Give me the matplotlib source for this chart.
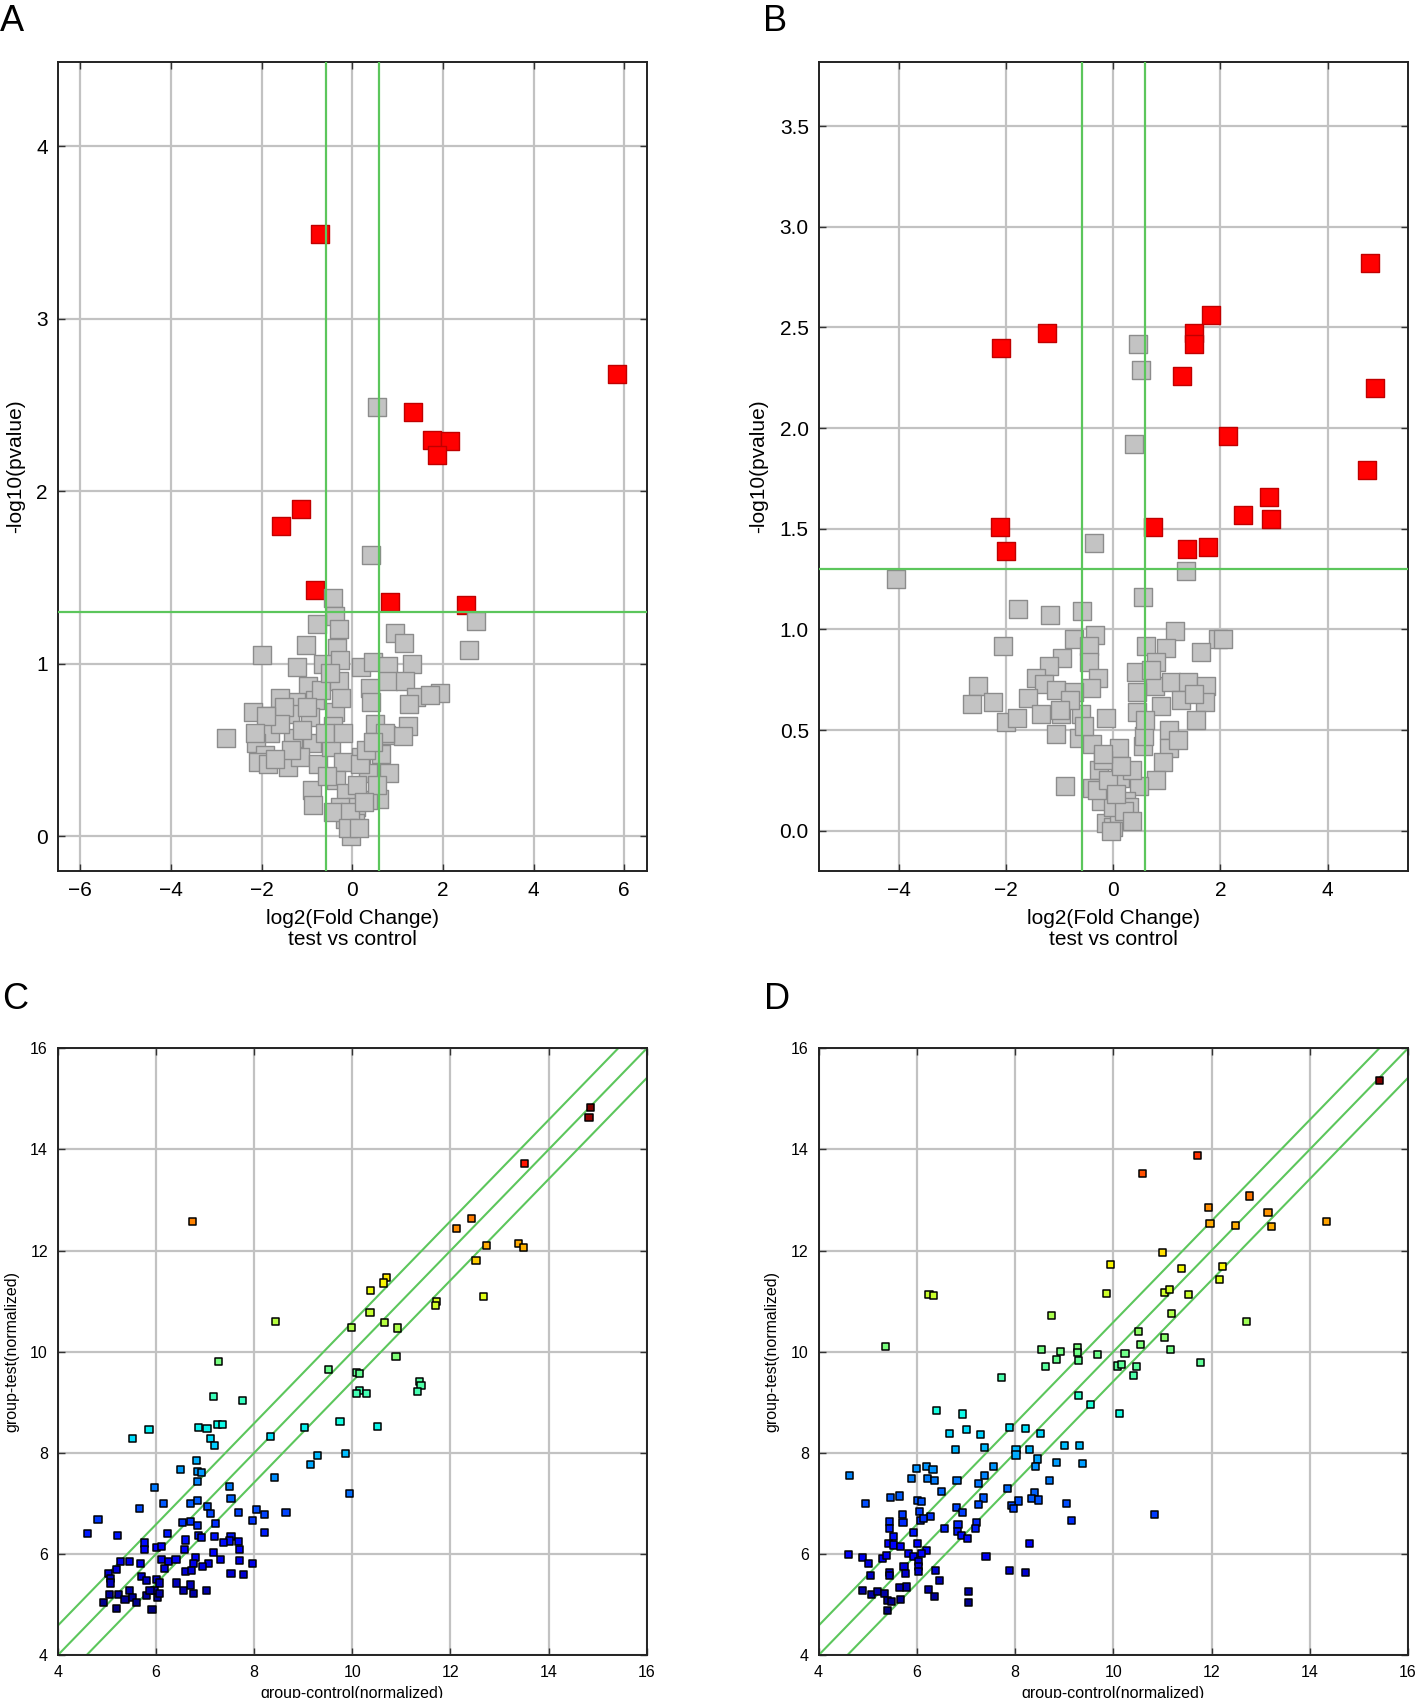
import matplotlib
matplotlib.use("Agg")
import matplotlib.pyplot as plt
import numpy as np

plt.rcParams['font.family'] = ['Liberation Sans', 'DejaVu Sans']

# ---------------- Panel A (volcano) ----------------
a_red_x = [-0.71, 5.83, 1.33, 1.76, 2.15, 1.86, -1.13, -1.57, -0.83, 0.83, 2.51]
a_red_y = [3.49, 2.68, 2.46, 2.30, 2.29, 2.21, 1.90, 1.80, 1.43, 1.36, 1.34]

a_gray_x = [0.54, 0.42, -0.43, -0.39, -0.78, -0.29, -0.34, -1.03, -2.0, -1.21, -0.65, -0.28,
            0.20, 0.46, 0.79, 0.95, 1.13, 1.32, 2.74, 2.57, 0.40, 0.79, 1.17, 1.41, 1.93, 1.71,
            1.26, 0.42, -0.98, -0.83, -1.24, -1.60, -2.19, -1.82, -1.37, -0.94, -0.39, -0.43,
            -1.82, -1.31, -0.90, -2.78, -2.12, -1.93, -2.07, -1.86, -1.42, -1.16, -0.76, -0.46,
            -0.21, 0.20, 0.64, 0.75, 1.23, 1.12, 0.82, 0.35, 0.16, -0.35, -0.88, -0.87, -0.13,
            0.09, 0.60, 0.35, -0.28, -0.17, 0.05, -0.02, -0.43, -0.06,
            -1.5, -1.1, -0.6, -0.55, 0.3, 0.1, -0.7, -1.6, -0.3, 0.5, 0.55, -0.2, 0.25, -0.1,
            0.15, -1.9, -2.15, -1.35, -1.0, -0.5, 0.72, 0.45, -0.25, -1.7]
a_gray_y = [2.49, 1.63, 1.38, 1.28, 1.23, 1.20, 1.09, 1.11, 1.05, 0.98, 1.00, 1.02,
            0.98, 1.01, 0.99, 1.18, 1.12, 1.00, 1.25, 1.08, 0.86, 0.90, 0.90, 0.81, 0.83, 0.82,
            0.77, 0.78, 0.87, 0.79, 0.78, 0.80, 0.72, 0.70, 0.71, 0.69, 0.72, 0.64,
            0.60, 0.57, 0.54, 0.57, 0.54, 0.47, 0.43, 0.42, 0.40, 0.46, 0.42, 0.52,
            0.43, 0.46, 0.48, 0.59, 0.64, 0.58, 0.37, 0.37, 0.42, 0.33, 0.27, 0.18, 0.25,
            0.17, 0.22, 0.21, 0.17, 0.10, 0.08, 0.00, 0.14, 0.14,
            0.75, 0.62, 0.60, 0.35, 0.50, 0.30, 0.85, 0.65, 0.90, 0.65, 0.30, 0.60, 0.20, 0.05,
            0.05, 0.70, 0.60, 0.50, 0.75, 0.95, 0.60, 0.55, 0.80, 0.45]

# ---------------- Panel B (volcano) ----------------
b_red_x = [4.80, -2.09, -1.24, 1.28, 1.51, 1.51, 1.82, 4.89, 2.15, 4.74, 2.91, 2.42, 2.94,
           -2.12, 0.74, -2.01, 1.38, 1.77]
b_red_y = [2.82, 2.40, 2.47, 2.26, 2.47, 2.42, 2.56, 2.20, 1.96, 1.79, 1.66, 1.57, 1.55,
           1.51, 1.51, 1.39, 1.40, 1.41]

b_gray_x = [0.46, 0.51, 0.38, -0.36, -4.05, 1.35, 0.55, -1.77, -1.18, -0.58, -2.06,
            -0.34, -0.73, -0.45, 1.16, 0.62, 0.98, 1.96, 2.05, 1.64, -0.96, -0.45, -1.19, 0.42,
            0.80, -1.44, -1.29, -1.07, -0.29, -0.42, -0.73, -2.52, -2.63, -2.24, -1.60, 0.77,
            1.08, 1.39, 1.73, 1.72, 1.26, 0.89, 0.45, -2.00, -1.79, -1.35, -0.97, -0.60, -0.14,
            -1.07, -0.63, -0.39, 0.11, 1.04, 1.54, 0.55, 1.04, 0.92, -0.26, 0.12, 0.80, -0.90,
            -0.39, 0.48, 0.24, -0.23, -0.14, -0.01, 0.11, 0.30, 0.58, 0.45,
            -0.8, 0.6, 1.2, -0.2, 0.0, 0.7, -1.0, 1.5, 0.35, -0.55,
            -0.3, 0.2, -0.1, 0.35, 0.15, -0.05, 0.05, -0.2]
b_gray_y = [2.42, 2.29, 1.92, 1.43, 1.25, 1.29, 1.16, 1.10, 1.07, 1.09, 0.92,
            0.97, 0.95, 0.92, 0.99, 0.92, 0.91, 0.95, 0.95, 0.89, 0.86, 0.84, 0.82, 0.79,
            0.84, 0.76, 0.73, 0.70, 0.76, 0.71, 0.69, 0.72, 0.63, 0.64, 0.66, 0.72,
            0.74, 0.74, 0.72, 0.64, 0.65, 0.62, 0.59, 0.54, 0.56, 0.58, 0.58, 0.58, 0.56,
            0.48, 0.46, 0.43, 0.41, 0.50, 0.55, 0.42, 0.41, 0.34, 0.30, 0.26, 0.25, 0.22,
            0.21, 0.22, 0.15, 0.15, 0.04, 0.02, 0.09, 0.12, 0.47, 0.69,
            0.65, 0.55, 0.45, 0.35, 0.12, 0.80, 0.60, 0.68, 0.30, 0.52,
            0.20, 0.10, 0.25, 0.05, 0.32, 0.00, 0.18, 0.38]

# ---------------- Panel C (scatter) ----------------
c_x = [14.86, 14.82, 13.50, 6.75, 12.13, 12.43, 12.73, 13.39, 13.48, 12.52, 10.70, 10.63,
       10.38, 10.36, 11.71, 11.69, 12.67, 8.44, 9.99, 10.65, 10.92, 10.89, 7.27, 9.52, 10.08,
       10.15, 10.15, 10.08, 10.29, 11.37, 11.40, 11.32, 7.17, 7.76, 9.87, 9.94, 10.52,
       5.52, 5.86, 6.87, 7.04, 7.25, 7.35, 7.12, 7.19, 8.33, 9.03, 9.75, 9.29, 9.14, 8.41,
       6.82, 6.51, 6.84, 6.92, 6.84, 5.97, 7.49, 7.53, 5.66, 6.15, 4.82, 4.60, 5.21, 6.71,
       6.84, 7.06, 7.11, 7.68, 8.05, 8.21, 8.65, 7.97, 8.21, 6.55, 6.70, 6.84, 7.22, 6.24,
       6.86, 6.92, 7.19, 7.53, 7.69, 7.49, 7.38, 6.61, 5.76, 5.76, 6.01, 6.12, 6.58, 7.18,
       7.70, 5.27, 5.47, 5.69, 6.12, 6.25, 6.41, 6.80, 6.77, 7.08, 6.95, 7.32, 7.71, 7.97,
       6.18, 6.60, 6.72, 5.04, 5.19, 5.08, 5.08, 5.71, 5.80, 6.01, 6.08, 7.53, 7.78, 6.42,
       6.70, 6.77, 6.57, 7.03, 5.06, 4.94, 5.24, 5.47, 5.37, 5.53, 5.60, 5.80, 5.97, 6.03,
       6.07, 5.19, 5.92, 5.88]
c_y = [14.83, 14.63, 13.73, 12.57, 12.44, 12.64, 12.11, 12.15, 12.06, 11.80, 11.47, 11.36,
       11.21, 10.78, 10.99, 10.91, 11.10, 10.60, 10.48, 10.58, 10.47, 9.91, 9.80, 9.65, 9.59,
       9.58, 9.23, 9.17, 9.18, 9.41, 9.33, 9.21, 9.12, 9.03, 7.99, 7.19, 8.52,
       8.29, 8.46, 8.50, 8.48, 8.57, 8.57, 8.28, 8.15, 8.32, 8.50, 8.63, 7.95, 7.78, 7.52,
       7.85, 7.67, 7.64, 7.62, 7.44, 7.32, 7.34, 7.10, 6.91, 7.01, 6.69, 6.40, 6.37, 7.01,
       7.06, 6.94, 6.81, 6.83, 6.88, 6.79, 6.83, 6.67, 6.43, 6.63, 6.64, 6.57, 6.60, 6.40,
       6.37, 6.32, 6.35, 6.35, 6.25, 6.26, 6.23, 6.28, 6.22, 6.10, 6.14, 6.15, 6.09, 6.03,
       6.09, 5.85, 5.85, 5.82, 5.90, 5.85, 5.89, 5.93, 5.82, 5.81, 5.76, 5.89, 5.87, 5.82,
       5.72, 5.66, 5.68, 5.62, 5.69, 5.52, 5.43, 5.56, 5.48, 5.50, 5.43, 5.62, 5.60, 5.43,
       5.39, 5.23, 5.29, 5.29, 5.21, 5.05, 5.21, 5.29, 5.11, 5.15, 5.04, 5.19, 5.29, 5.14,
       5.23, 4.93, 4.90, 5.29]

# ---------------- Panel D (scatter) ----------------
d_x = [15.42, 11.72, 10.60, 12.77, 11.94, 11.97, 12.49, 13.15, 13.23, 14.34, 11.01, 9.95,
       11.39, 12.23, 12.17, 6.25, 6.34, 9.87, 11.04, 11.14, 11.53, 11.19, 8.75, 12.72, 5.36,
       10.51, 10.55, 11.05, 11.16, 8.54, 8.93, 9.28, 9.28, 9.30, 9.68, 10.24, 8.62, 8.84,
       10.08, 10.17, 10.47, 10.42, 11.77, 7.73, 9.30,
       9.53, 10.12, 6.41, 6.94, 7.02, 7.30, 6.66, 7.89, 8.22, 8.51, 6.78, 7.38, 8.02, 8.02,
       8.30, 9.01, 9.31, 9.38, 8.84, 8.46, 8.42, 7.56, 7.38, 8.71, 5.99, 6.19, 6.33, 5.90,
       6.22, 6.37, 6.82, 6.51, 4.64, 7.26, 7.85, 8.39, 7.36, 7.25, 8.08, 8.34, 8.48, 7.92,
       7.97, 9.05, 4.95, 5.47, 5.64, 6.01, 6.09, 6.81, 6.93, 10.84, 9.15, 5.71, 5.72, 6.06,
       6.07, 6.28, 6.13, 5.44, 5.44, 6.56, 6.84, 6.83, 7.21, 7.19, 6.92, 7.03, 5.52, 5.94,
       5.43, 5.52, 5.67, 6.01, 6.19, 6.10, 5.83, 5.94, 6.04, 6.04, 6.04, 4.61, 4.90, 5.02,
       5.06, 5.30, 5.38, 5.44, 5.45, 5.74, 5.78, 6.38, 6.47, 6.24, 6.36, 4.90, 5.08, 5.20,
       5.35, 5.41, 5.49, 5.67, 5.79, 5.65, 5.40, 7.05, 7.05, 7.41, 7.89, 8.22, 8.29]
d_y = [15.36, 13.88, 13.53, 13.08, 12.86, 12.53, 12.49, 12.75, 12.48, 12.58, 11.96, 11.72,
       11.65, 11.69, 11.43, 11.14, 11.11, 11.16, 11.18, 11.24, 11.14, 10.76, 10.72, 10.60, 10.10,
       10.40, 10.15, 10.29, 10.04, 10.04, 10.01, 10.09, 9.99, 9.82, 9.95, 9.97, 9.71, 9.84,
       9.72, 9.75, 9.71, 9.53, 9.79, 9.49, 9.13,
       8.96, 8.78, 8.84, 8.77, 8.46, 8.36, 8.39, 8.50, 8.49, 8.39, 8.06, 8.11, 8.06, 7.96,
       8.07, 8.15, 8.14, 7.80, 7.82, 7.88, 7.74, 7.74, 7.56, 7.45, 7.70, 7.74, 7.68, 7.50,
       7.50, 7.45, 7.45, 7.23, 7.56, 7.39, 7.30, 7.22, 7.11, 6.98, 7.05, 7.10, 7.07, 6.97,
       6.90, 7.00, 7.00, 7.12, 7.15, 7.06, 7.04, 6.92, 6.82, 6.79, 6.66, 6.79, 6.63, 6.84,
       6.67, 6.74, 6.71, 6.65, 6.50, 6.51, 6.59, 6.44, 6.62, 6.50, 6.36, 6.30, 6.34, 6.42,
       6.21, 6.18, 6.15, 6.21, 6.08, 6.01, 6.01, 5.95, 5.85, 5.75, 5.65, 6.00, 5.93, 5.82,
       5.58, 5.91, 5.98, 5.63, 5.58, 5.75, 5.62, 5.68, 5.47, 5.30, 5.17, 5.29, 5.21, 5.27,
       5.22, 5.09, 5.06, 5.10, 5.35, 5.34, 4.89, 5.27, 5.04, 5.95, 5.67, 5.63, 6.21]

FC_CUT = np.log2(1.5)
P_CUT = -np.log10(0.05)
GREEN = '#5cc65c'
GRID = '#c2c2c2'

W, H = 1416, 1698
fig = plt.figure(figsize=(W / 100, H / 100), dpi=100)


def frac(l, r, t, b):
    return [l / W, 1 - b / H, (r - l) / W, (b - t) / H]


def style(ax, fs):
    ax.grid(True, color=GRID, linewidth=1.6, zorder=0)
    ax.set_axisbelow(True)
    ax.tick_params(direction='in', length=5, width=1.0, top=True, right=True,
                   labelsize=fs, pad=7, color='#333333')
    for s in ax.spines.values():
        s.set_linewidth(1.4)
        s.set_color('#222222')


def volcano(ax, rx, ry, gx, gy, xlim, ylim, xticks, yticks, yfmt):
    style(ax, 15)
    ax.scatter(rx, ry, marker='s', s=175, facecolor='#ff0000', edgecolor='#c00000',
               linewidth=1.0, zorder=2)
    ax.scatter(gx, gy, marker='s', s=175, facecolor='#c3c3c3', edgecolor='#8c8c8c',
               linewidth=1.0, zorder=2)
    ax.axvline(-FC_CUT, color=GREEN, linewidth=1.6, zorder=3)
    ax.axvline(FC_CUT, color=GREEN, linewidth=1.6, zorder=3)
    ax.axhline(P_CUT, color=GREEN, linewidth=1.6, zorder=3)
    ax.set_xlim(*xlim)
    ax.set_ylim(*ylim)
    ax.set_xticks(xticks)
    ax.set_yticks(yticks)
    ax.set_yticklabels([yfmt.format(v) for v in yticks])
    ax.set_xlabel('log2(Fold Change)\ntest vs control', fontsize=15, labelpad=7,
                  linespacing=1.1)
    ax.set_ylabel('-log10(pvalue)', fontsize=15, labelpad=8)


def scatter_panel(ax, x, y):
    style(ax, 11.5)
    lim = np.array([4, 16])
    ax.plot(lim, lim + FC_CUT, color=GREEN, linewidth=1.5, zorder=2)
    ax.plot(lim, lim, color=GREEN, linewidth=1.5, zorder=2)
    ax.plot(lim, lim - FC_CUT, color=GREEN, linewidth=1.5, zorder=2)
    ax.scatter(x, y, c=y, cmap='jet', vmin=min(y), vmax=max(y), marker='s', s=26,
               edgecolor='black', linewidth=1.1, zorder=3)
    ax.set_xlim(4, 16)
    ax.set_ylim(4, 16)
    ax.set_xticks(range(4, 17, 2))
    ax.set_yticks(range(4, 17, 2))
    ax.set_xlabel('group-control(normalized)', fontsize=11.5, labelpad=4)
    ax.set_ylabel('group-test(normalized)', fontsize=11.5, labelpad=8)


axA = fig.add_axes(frac(57.7, 646.9, 61.7, 871))
volcano(axA, a_red_x, a_red_y, a_gray_x, a_gray_y, (-6.5, 6.5), (-0.2, 4.49),
        range(-6, 7, 2), [0, 1, 2, 3, 4], '{:.0f}')

axB = fig.add_axes(frac(818.5, 1408, 61.7, 871))
volcano(axB, b_red_x, b_red_y, b_gray_x, b_gray_y, (-5.5, 5.5), (-0.2, 3.82),
        range(-4, 5, 2), [0.0, 0.5, 1.0, 1.5, 2.0, 2.5, 3.0, 3.5], '{:.1f}')

axC = fig.add_axes(frac(57.7, 646.9, 1048.3, 1655.3))
scatter_panel(axC, c_x, c_y)

axD = fig.add_axes(frac(818.5, 1408, 1048.3, 1655.3))
scatter_panel(axD, d_x, d_y)

for lab, px, py in [('A', 0, 4), ('B', 763, 4), ('C', 2, 982), ('D', 764, 982)]:
    fig.text(px / W, 1 - py / H, lab, fontsize=26, ha='left', va='top')

fig.savefig('out.png', dpi=100, facecolor='white')
